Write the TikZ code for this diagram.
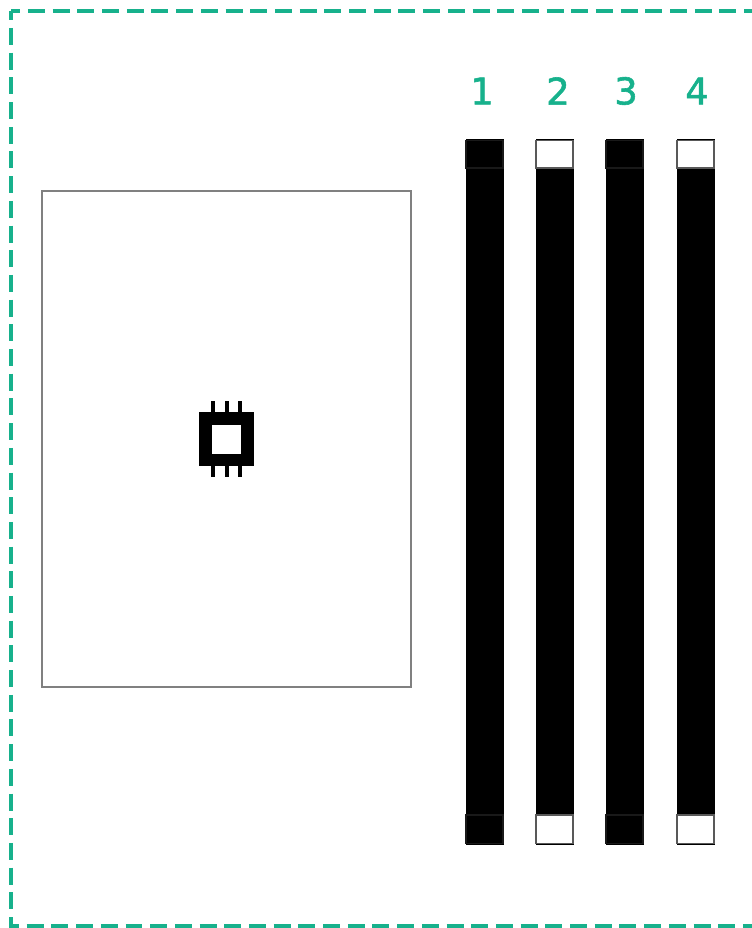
\documentclass[tikz,border=0pt]{standalone}
\usepackage{fontspec}
\newfontfamily\slotfont[FakeBold=1.6]{DejaVu Sans}
\usetikzlibrary{calc}
\definecolor{slotgreen}{HTML}{17B18C}

\tikzset{
  borderline/.style={draw=slotgreen, line width=0.075cm, dash pattern=on 0.34cm off 0.154cm, dash phase=0.154cm},
  slotbar/.style={fill=black, draw=black, line width=0.02cm},
  slotcap/.style={line width=0.03cm},
  slotlabel/.style={text=slotgreen, font=\slotfont\fontsize{21}{21}\selectfont, inner sep=0pt},
}

\begin{document}
\begin{tikzpicture}[x=0.02cm, y=-0.02cm, line cap=butt, line join=miter]
            \useasboundingbox (0,0) rectangle (751,928);
            \coordinate (TL) at (11,11);
            \coordinate (BL) at (11,926);
            \coordinate (TR) at (760,11);
            \coordinate (BR) at (760,926);
            \coordinate (C) at (226.5,439);

            % board outline
            \draw[borderline] (TL) -- (TR);
            \draw[borderline] (TL) -- (BL) -- (BR);

            % processor socket
            \draw[draw=black!50, line width=0.03cm] (42,191) rectangle (411,687);

            % chip icon
            \foreach \dx in {-13.5,0,13.5} {
                \fill[black] ($(C)+(\dx-2,-38)$) rectangle ($(C)+(\dx+2,38)$);
            }
            \fill[black] ($(C)+(-27.5,-27)$) rectangle ($(C)+(27.5,27)$);
            \fill[white] ($(C)+(-14.5,-14)$) rectangle ($(C)+(14.5,14.5)$);

            % DIMM slots
            \foreach \n/\xa/\lx/\capfill/\capdraw in {1/466/482/black/black!90, 2/536/558/white/black!65, 3/606/626/black/black!90, 4/677/697/white/black!65} {
                \draw[slotbar] (\xa,140) rectangle (\xa+37,844);
                \draw[slotcap, fill=\capfill, draw=\capdraw] (\xa,140.5) rectangle (\xa+37,168);
                \draw[slotcap, fill=\capfill, draw=\capdraw] (\xa,815) rectangle (\xa+37,843.5);
                \node[slotlabel] (label\n) at (\lx,91) {\n};
            }

        \end{tikzpicture}
\end{document}
